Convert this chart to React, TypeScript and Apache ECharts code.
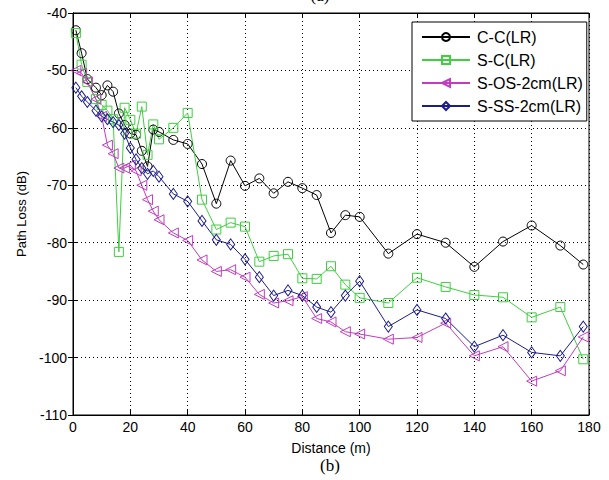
import React, { useEffect, useRef } from "react";
import * as echarts from "echarts";

const distances = [1, 3, 5, 8, 10, 12, 14, 16, 18, 20, 22, 24, 26, 28, 30, 35, 40, 45, 50, 55, 60, 65, 70, 75, 80, 85, 90, 95, 100, 110, 120, 130, 140, 150, 160, 170, 178];

const ccLR = [-43, -47, -51.5, -53, -54.3, -52.6, -53.7, -57.5, -59.5, -61, -61.2, -64, -66.7, -60.3, -60.7, -62.1, -62.8, -66.3, -73.2, -65.7, -70.1, -68.8, -71.4, -69.4, -70.5, -71.7, -78.3, -75.2, -75.5, -81.9, -78.5, -80, -84.2, -79.8, -77, -80.5, -83.8];
const scLR = [-43.5, -49, -52, -55, -56, -57, -58.5, -81.6, -56.5, -58.6, -61, -56.3, -64.7, -59.4, -62, -60, -57.4, -72.5, -77.7, -76.5, -77.2, -83.3, -82.3, -82, -86.2, -86.3, -84.1, -87.3, -89.6, -90.5, -86.1, -87.7, -89.1, -89.5, -93, -91.2, -100.3];
const sos2cmLR = [-50, -50.5, -52, -55, -58, -63, -64.5, -67, -67, -66.5, -67.5, -70, -72.5, -74.5, -76, -78.3, -79.6, -83, -85, -84.7, -86, -89, -90.5, -90.1, -89.4, -93.2, -93.8, -95.5, -95.9, -96.8, -96.5, -94, -99.7, -98.1, -104.1, -102.3, -96.4];
const sss2cmLR = [-53, -54.5, -55.5, -57, -58, -58.5, -59, -59.5, -61, -63.5, -65.5, -67, -68, -67.5, -68.5, -71.5, -72.8, -76.2, -79.5, -80.3, -82.9, -86, -89.2, -88.3, -89.2, -91.2, -92.1, -89.2, -86.7, -94.6, -91.7, -93.2, -98.1, -96.1, -99.1, -99.7, -94.6];

const seriesNames = ["C-C(LR)", "S-C(LR)", "S-OS-2cm(LR)", "S-SS-2cm(LR)"];
const xTicks = { min: 0, max: 180, interval: 20 };
const yTicks = { min: -110, max: -40, interval: 10 };

const FONT = "'Liberation Sans', Arial, sans-serif";

function pairs(ys: number[]) {
  return distances.map((d, i) => [d, ys[i]]);
}

export default function App() {
  const ref = useRef<HTMLDivElement>(null);
  useEffect(() => {
    if (!ref.current) return;
    const chart = echarts.init(ref.current, undefined, { renderer: "svg" });
    const mk = (name: string, ys: number[], color: string, symbol: string, size: any, rotate = 0) => ({
      name,
      type: "line",
      data: pairs(ys),
      xAxisIndex: 0,
      yAxisIndex: 0,
      symbol,
      symbolSize: size,
      symbolRotate: rotate,
      showSymbol: true,
      lineStyle: { color, width: 1 },
      itemStyle: { color: "rgba(255,255,255,0)", borderColor: color, borderWidth: 1 },
      emphasis: { disabled: true },
    });
    const axisCommon = {
      axisLine: { show: true, lineStyle: { color: "#000", width: 1 } },
      axisTick: { show: true, inside: true, length: 5, lineStyle: { color: "#000" } },
    };
    chart.setOption({
      animation: false,
      backgroundColor: "#fff",
      grid: { left: 73, right: 20, top: 13, bottom: 65, show: true, borderColor: "#000", borderWidth: 1 },
      legend: {
        data: seriesNames,
        orient: "vertical",
        left: 412,
        top: 22,
        padding: [7, 4, 7, 9],
        itemWidth: 48,
        itemHeight: 10,
        itemGap: 7,
        backgroundColor: "#fff",
        borderColor: "#000",
        borderWidth: 1,
        borderRadius: 0,
        textStyle: { fontFamily: FONT, fontSize: 16, color: "#000", lineHeight: 14, padding: [0, 0, 0, 2] },
      },
      xAxis: [
        {
          type: "value",
          ...xTicks,
          position: "bottom",
          name: "Distance (m)",
          nameLocation: "middle",
          nameGap: 26,
          nameTextStyle: { fontFamily: FONT, fontSize: 14, color: "#000" },
          axisLabel: { fontFamily: FONT, fontSize: 14, color: "#000", margin: 5 },
          splitLine: { show: true, lineStyle: { color: "#000", type: [1, 3], width: 1 } },
          ...axisCommon,
        },
        {
          type: "value",
          ...xTicks,
          position: "top",
          axisLabel: { show: false },
          splitLine: { show: false },
          ...axisCommon,
        },
      ],
      yAxis: [
        {
          type: "value",
          ...yTicks,
          position: "left",
          name: "Path Loss (dB)",
          nameLocation: "middle",
          nameGap: 44,
          nameTextStyle: { fontFamily: FONT, fontSize: 13, color: "#000" },
          axisLabel: { fontFamily: FONT, fontSize: 14, color: "#000", margin: 6 },
          splitLine: { show: true, lineStyle: { color: "#000", type: [1, 3], width: 1 } },
          ...axisCommon,
        },
        {
          type: "value",
          ...yTicks,
          position: "right",
          axisLabel: { show: false },
          splitLine: { show: false },
          ...axisCommon,
        },
      ],
      graphic: [
        {
          type: "text",
          x: 330,
          y: 465,
          style: { text: "(b)", fontFamily: "'Liberation Serif', 'Times New Roman', serif", fontSize: 17, fill: "#000", align: "center", verticalAlign: "middle" },
        },
        {
          type: "text",
          x: 320,
          y: 4,
          style: { text: "(a)", fontFamily: "'Liberation Serif', 'Times New Roman', serif", fontSize: 17, fill: "#000", align: "center", verticalAlign: "bottom" },
        },
      ],
      series: [
        mk(seriesNames[0], ccLR, "#000000", "circle", 9),
        mk(seriesNames[1], scLR, "#3fcf3f", "rect", 9),
        mk(seriesNames[2], sos2cmLR, "#c03cc0", "triangle", [10, 10], 90),
        mk(seriesNames[3], sss2cmLR, "#1c1c8c", "diamond", [8, 11]),
      ],
    });
    return () => chart.dispose();
  }, []);
  return <div ref={ref} style={{ width: 609, height: 480, position: "absolute", left: 0, top: 0 }} />;
}
